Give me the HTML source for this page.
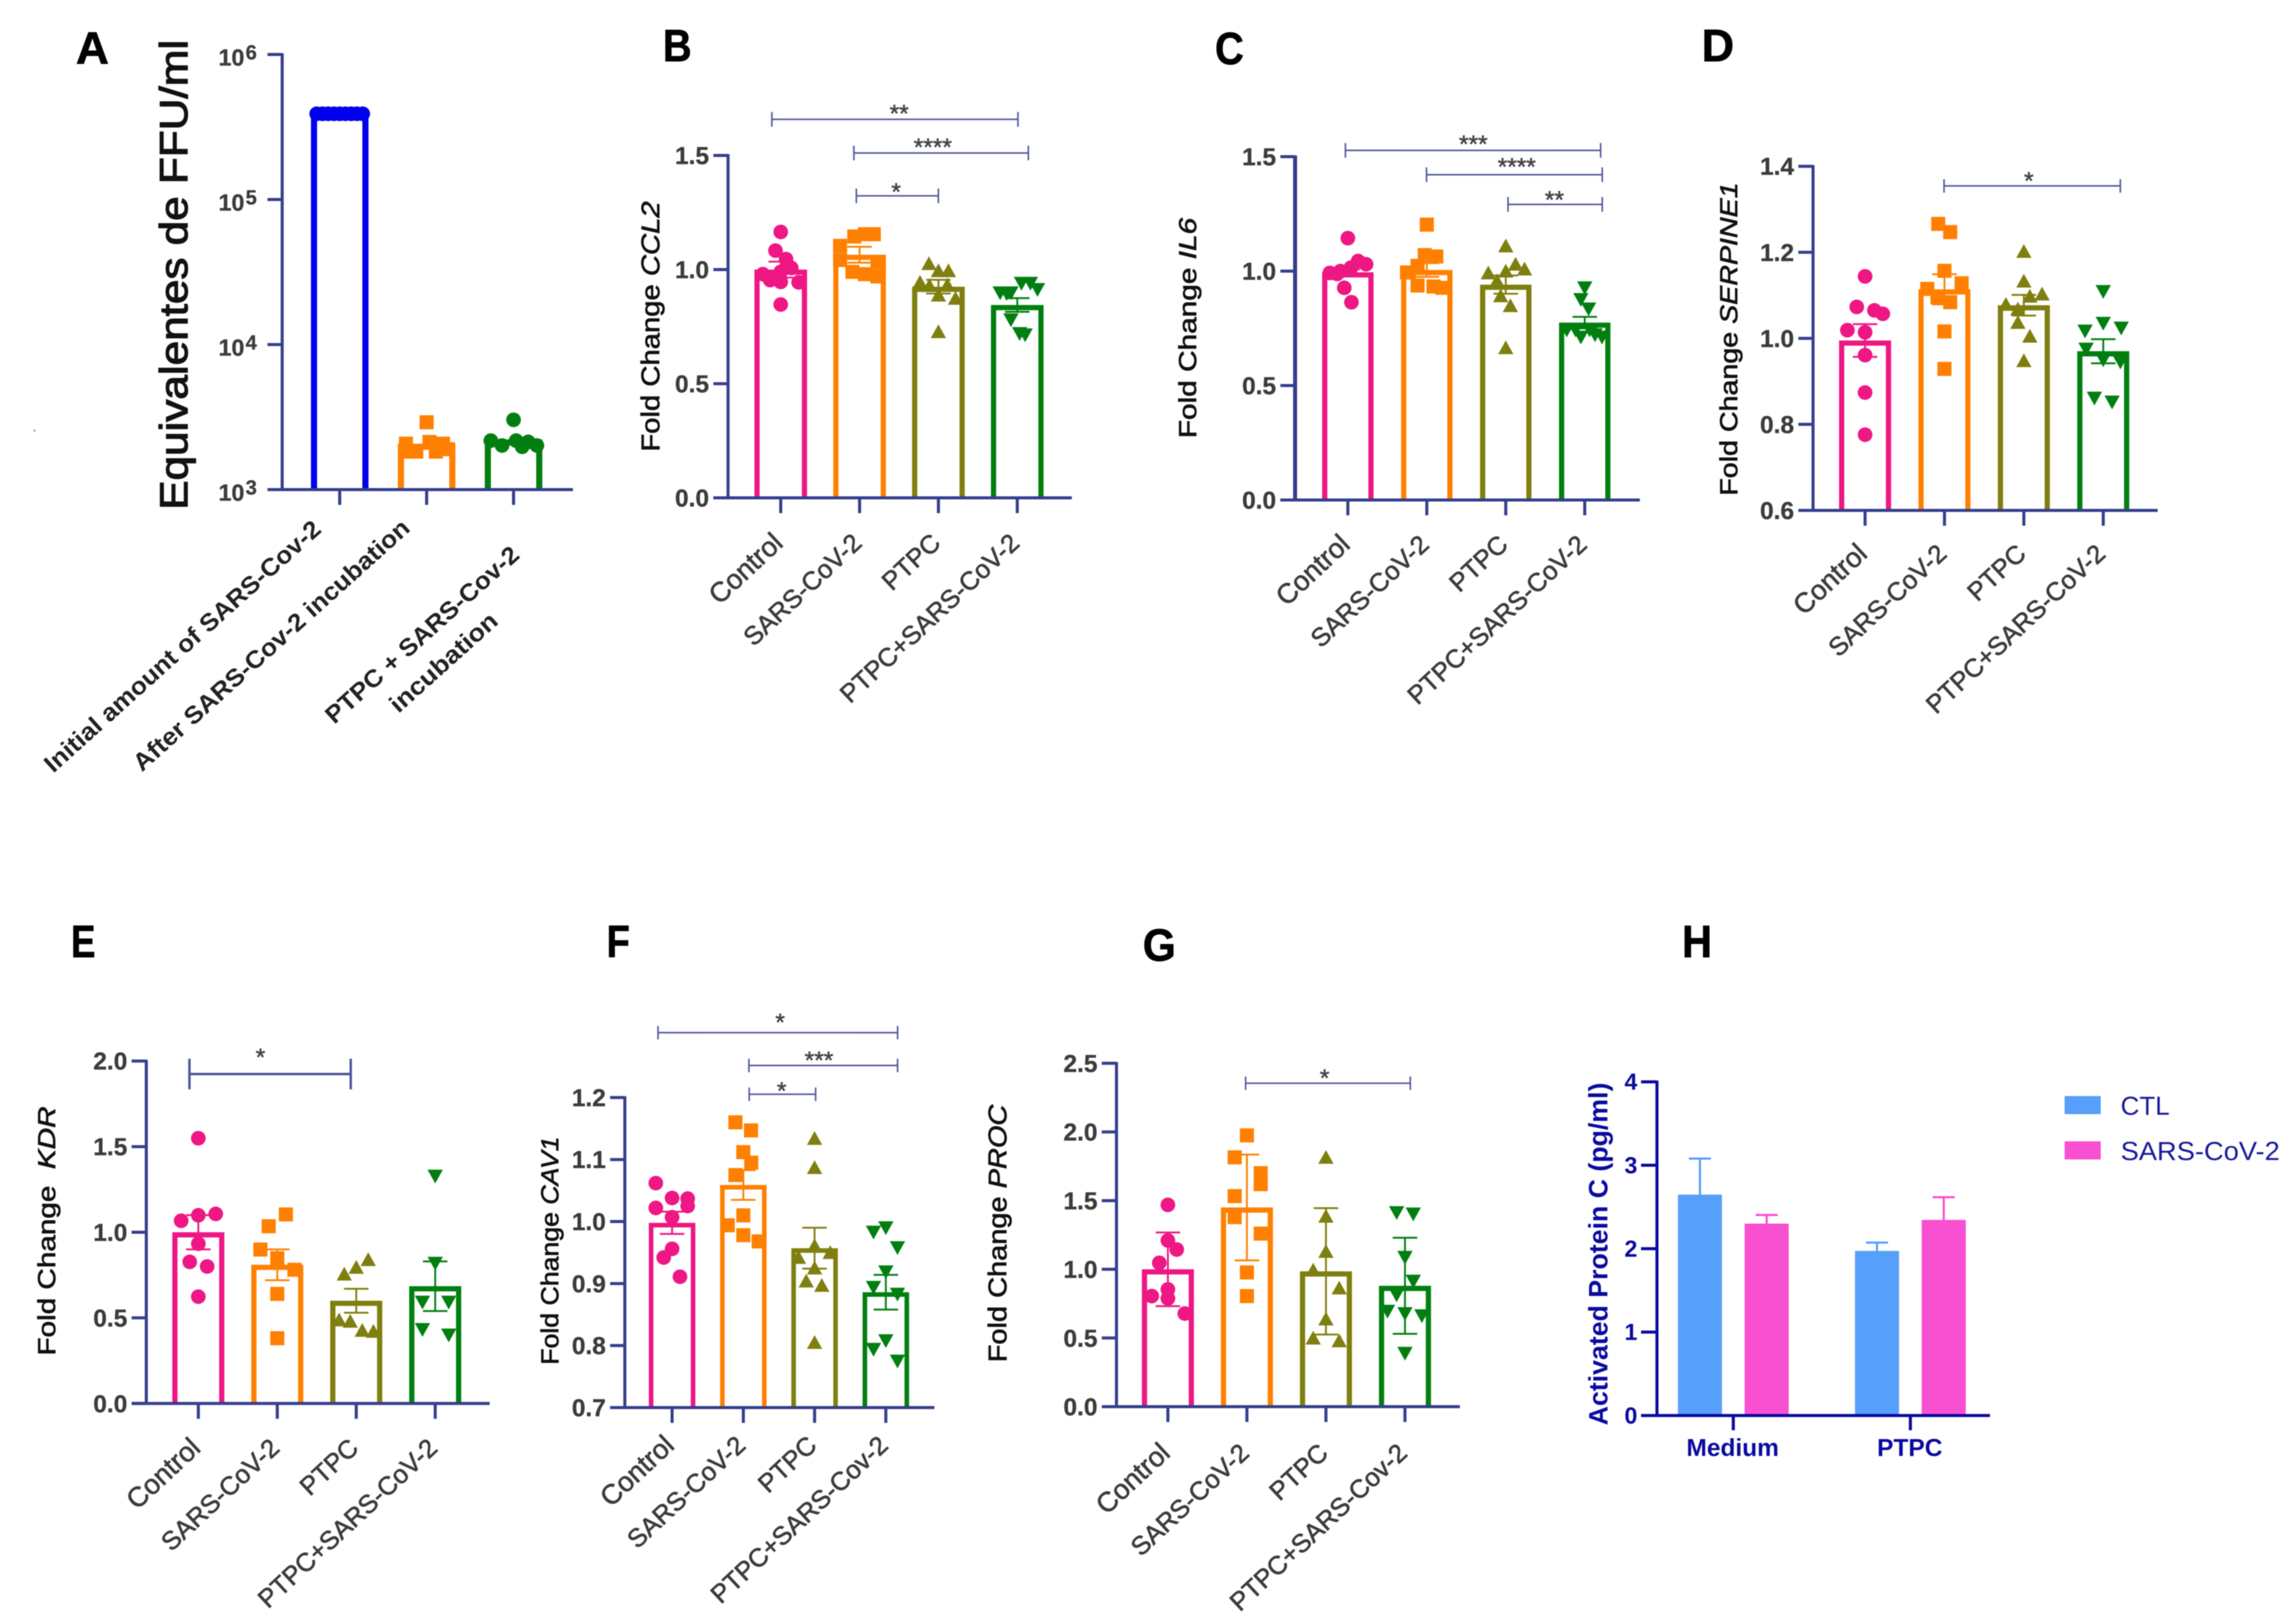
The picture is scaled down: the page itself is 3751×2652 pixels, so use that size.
<!DOCTYPE html>
<html lang="en">
<head>
<meta charset="utf-8">
<title>Panels A–H: SARS-CoV-2 titres and fold changes</title>
<style>
html,body{margin:0;padding:0;background:#fff;width:3751px;height:2652px;overflow:hidden}
svg{display:block;filter:blur(0.9px)}
text{font-family:"Liberation Sans",sans-serif}
</style>
</head>
<body>
<svg id="figure" xmlns="http://www.w3.org/2000/svg" width="3751" height="2652" viewBox="0 0 3751 2652">
<rect x="0" y="0" width="3751" height="2652" fill="#ffffff"/>
<rect x="55" y="702" width="3" height="3" fill="#8a8fa8"/>
</svg>
<script>
/* ---------- shared categories ---------- */
const groupLabels = ['Control', 'SARS-CoV-2', 'PTPC', 'PTPC+SARS-CoV-2'];
const groupLabelsCov = ['Control', 'SARS-CoV-2', 'PTPC', 'PTPC+SARS-Cov-2'];

/* ---------- panel A: FFU/ml (log scale) ---------- */
const ffuExponents = [3, 4, 5, 6];
const ffuLabels = ['Initial amount of SARS-Cov-2', 'After SARS-Cov-2 incubation', 'PTPC + SARS-Cov-2 incubation'];
const ffuMeans = [390000, 2072, 2218];
const ffuPoints = [
  [390000, 390000, 390000, 390000, 390000, 390000, 390000, 390000, 390000],
  [2911, 2072, 2130, 2072, 1827, 1827, 1827, 1900],
  [3027, 2176, 2014, 2176, 1974, 2133, 2014]
];
const ffuSlots = [
  [-0.8, -0.6, -0.4, -0.2, 0, 0.2, 0.4, 0.6, 0.8],
  [0, -0.72, 0.1, 0.57, -0.62, -0.36, 0.32, 0.74],
  [0, -0.79, -0.4, 0.09, 0.3, 0.51, 0.81]
];

/* ---------- panel B: CCL2 ---------- */
const ccl2Ticks = [0, 0.5, 1, 1.5];
const ccl2TickLabels = ['0.0', '0.5', '1.0', '1.5'];
const ccl2Means = [1.0, 1.065, 0.925, 0.845];
const ccl2Errors = [0.035, 0.035, 0.03, 0.03];
const ccl2Points = [
  [1.165, 1.083, 1.046, 1.007, 0.98, 0.99, 0.954, 0.946, 0.944, 0.847],
  [1.155, 1.145, 1.104, 1.042, 1.032, 0.99, 0.98, 0.97, 1.155],
  [1.026, 0.995, 0.995, 0.944, 0.93, 0.933, 0.888, 0.874, 0.728],
  [0.898, 0.898, 0.94, 0.94, 0.913, 0.78, 0.72, 0.714, 0.895]
];
const ccl2Slots = [
  [0, -0.2, 0.2, 0.4, -0.68, 0, -0.4, 0, 0.68, 0],
  [0.54, -0.2, -0.74, -0.74, 0.68, -0.27, 0.2, 0.68, 0.2],
  [-0.36, 0, 0.38, -0.7, -0.34, 0.34, 0, 0.65, 0],
  [-0.65, -0.24, 0.16, 0.5, 0.77, -0.24, 0.09, 0.3, -0.4]
];

/* ---------- panel C: IL6 ---------- */
const il6Ticks = [0, 0.5, 1, 1.5];
const il6TickLabels = ['0.0', '0.5', '1.0', '1.5'];
const il6Means = [0.995, 1.005, 0.941, 0.775];
const il6Errors = [0.012, 0.03, 0.04, 0.025];
const il6Points = [
  [1.144, 1.044, 1.03, 1.015, 1, 0.992, 0.988, 0.927, 0.864],
  [1.203, 1.07, 1.064, 1.023, 0.994, 0.937, 0.927, 0.933, 0.994],
  [1.11, 1.03, 1.009, 0.992, 1, 0.958, 0.892, 0.849, 0.665],
  [0.927, 0.876, 0.835, 0.743, 0.743, 0.712, 0.743, 0.712, 0.722]
];
const il6Slots = [
  [0, 0.4, 0.71, 0.12, -0.29, -0.7, -0.42, -0.14, 0.14],
  [0, -0.08, 0.37, -0.36, -0.77, -0.36, 0.6, 0.26, -0.7],
  [0, 0.38, 0.73, -0.68, 0, -0.34, -0.2, 0.18, 0],
  [0, -0.15, 0.15, -0.7, -0.36, -0.15, 0.19, 0.67, 0.4]
];

/* ---------- panel D: SERPINE1 ---------- */
const serpineTicks = [0.6, 0.8, 1.0, 1.2, 1.4];
const serpineTickLabels = ['0.6', '0.8', '1.0', '1.2', '1.4'];
const serpineMeans = [0.995, 1.114, 1.077, 0.97];
const serpineErrors = [0.038, 0.035, 0.024, 0.028];
const serpinePoints = [
  [1.144, 1.073, 1.065, 1.057, 1.019, 1.014, 0.961, 0.874, 0.776],
  [1.266, 1.247, 1.157, 1.115, 1.128, 1.095, 1.084, 1.016, 0.929],
  [1.202, 1.133, 1.098, 1.103, 1.079, 1.068, 1.037, 1.005, 0.948],
  [1.109, 1.017, 1.035, 1.024, 0.975, 0.95, 0.945, 0.861, 0.852]
];
const serpineSlots = [
  [0, -0.32, 0.36, 0.68, -0.68, 0, 0, 0, 0],
  [-0.24, 0.22, 0, -0.66, 0.66, -0.27, 0.22, 0, 0],
  [0, 0, 0.23, 0.7, -0.69, -0.23, -0.23, 0.23, 0],
  [0, -0.7, 0, 0.69, -0.66, 0, 0.66, -0.34, 0.34]
];

/* ---------- panel E: KDR ---------- */
const kdrTicks = [0, 0.5, 1, 1.5, 2];
const kdrTickLabels = ['0.0', '0.5', '1.0', '1.5', '2.0'];
const kdrMeans = [1.0, 0.81, 0.6, 0.685];
const kdrErrors = [0.1, 0.09, 0.07, 0.145];
const kdrPoints = [
  [1.549, 1.067, 1.099, 1.107, 0.933, 0.827, 0.8, 0.624],
  [1.104, 1.035, 0.899, 0.848, 0.781, 0.64, 0.381],
  [0.84, 0.795, 0.755, 0.488, 0.48, 0.427, 0.421],
  [1.328, 0.819, 0.592, 0.592, 0.432, 0.4]
];
const kdrSlots = [
  [0, -0.66, 0, 0.67, 0, -0.33, 0.34, 0],
  [0.33, -0.33, -0.65, 0, 0.66, 0, 0],
  [0.46, 0, -0.46, -0.66, -0.23, 0.23, 0.66],
  [0, 0, -0.49, 0.52, -0.49, 0.52]
];

/* ---------- panel F: CAV1 ---------- */
const cav1Ticks = [0.7, 0.8, 0.9, 1.0, 1.1, 1.2];
const cav1TickLabels = ['0.7', '0.8', '0.9', '1.0', '1.1', '1.2'];
const cav1Means = [0.998, 1.059, 0.957, 0.886];
const cav1Errors = [0.018, 0.024, 0.033, 0.028];
const cav1Points = [
  [1.062, 1.038, 1.037, 1.022, 1.025, 1.007, 0.956, 0.942, 0.911],
  [1.16, 1.147, 1.112, 1.095, 1.075, 1.01, 0.994, 0.978, 0.968],
  [1.134, 1.087, 0.942, 0.961, 0.95, 0.925, 0.904, 0.897, 0.805],
  [0.99, 0.983, 0.958, 0.919, 0.894, 0.883, 0.808, 0.794, 0.775]
];
const cav1Slots = [
  [-0.7, 0, 0.67, -0.7, 0.67, 0, 0, -0.36, 0.34],
  [-0.34, 0.33, 0, 0.34, -0.34, 0, -0.67, 0, 0.66],
  [0, 0, -0.69, 0, 0.67, 0, -0.36, 0.31, 0],
  [0, -0.53, 0.5, 0, -0.53, 0.5, 0, -0.53, 0.5]
];

/* ---------- panel G: PROC ---------- */
const procTicks = [0, 0.5, 1, 1.5, 2, 2.5];
const procTickLabels = ['0.0', '0.5', '1.0', '1.5', '2.0', '2.5'];
const procMeans = [1.0, 1.45, 0.985, 0.88];
const procErrors = [0.268, 0.385, 0.46, 0.35];
const procPoints = [
  [1.469, 1.21, 1.144, 1.047, 0.854, 0.805, 0.788, 0.678],
  [1.975, 1.815, 1.7, 1.62, 1.533, 1.38, 1.26, 0.977, 0.805],
  [1.815, 1.386, 1.13, 0.994, 0.864, 0.638, 0.499, 0.479],
  [1.413, 1.403, 1.087, 0.914, 0.814, 0.695, 0.678, 0.662, 0.389]
];
const procSlots = [
  [0, 0, 0.34, -0.33, 0, -0.62, 0, 0.65],
  [0, -0.47, 0.53, 0.53, -0.47, -0.47, 0.53, 0, 0],
  [0, 0, 0, -0.49, 0.51, 0, -0.49, 0.51],
  [-0.32, 0.32, 0, 0.32, -0.32, -0.67, 0, 0.65, 0]
];

/* ---------- panel H: activated protein C ---------- */
const apcConditions = ['Medium', 'PTPC'];
const apcSeriesNames = ['CTL', 'SARS-CoV-2'];
const apcTicks = [0, 1, 2, 3, 4];
const apcCtl = [2.648, 1.973];
const apcCtlErrors = [0.432, 0.1];
const apcSars = [2.3, 2.345];
const apcSarsErrors = [0.104, 0.272];

/* ---------- styling and helpers ---------- */
const NS = 'http://www.w3.org/2000/svg';
const figure = document.getElementById('figure');
const AXIS = '#353f8c';
const INK = '#3c3c3c';
const PINK = '#ee1784', ORANGE = '#ff8000', OLIVE = '#7f7f10', GREEN = '#007f10', BLUE = '#0000ee';
const APC_BLUE = '#569ffb', APC_PINK = '#f94fd1', APC_AXIS = '#0a0aa0';

function make(tag, attrs, parent, content) {
  const node = document.createElementNS(NS, tag);
  for (const key in attrs) node.setAttribute(key, attrs[key]);
  if (content !== undefined) node.textContent = content;
  parent.appendChild(node);
  return node;
}
function slug(s) {
  return s.toLowerCase().replace(/[^a-z0-9]+/g, '-').replace(/^-|-$/g, '');
}
function marker(shape, cx, cy, color, parent) {
  if (shape === 'circle') return make('circle', {cx: cx, cy: cy, r: 12, fill: color}, parent);
  if (shape === 'square') return make('rect', {x: cx - 11.5, y: cy - 11.5, width: 23, height: 23, fill: color}, parent);
  const p = shape === 'up'
    ? [cx - 12.5, cy + 10.5, cx + 12.5, cy + 10.5, cx, cy - 12]
    : [cx - 12.5, cy - 10.5, cx + 12.5, cy - 10.5, cx, cy + 12];
  return make('polygon', {points: p.join(' '), fill: color}, parent);
}
function panelLetter(letter, x, y, len) {
  const t = make('text', {x: x, y: y, 'font-size': 74, 'font-weight': 700, fill: '#000', stroke: '#000', 'stroke-width': 1, textLength: len, lengthAdjust: 'spacingAndGlyphs'}, figure, letter);
  
  
}
function yTitle(panel, plain, italic, baseX, bottomY, len, size, weight) {
  const t = make('text', {transform: 'translate(' + baseX + ' ' + bottomY + ') rotate(-90)', 'font-size': size, fill: '#111', stroke: '#111', 'stroke-width': weight, textLength: len, lengthAdjust: 'spacingAndGlyphs'}, panel, plain);
  
  
  if (italic) make('tspan', {'font-style': 'italic'}, t, italic);
}
function bracket(panel, x1, x2, y, stars, starX, starY, half, width) {
  const g = make('g', {stroke: AXIS, 'stroke-width': width, fill: 'none', opacity: 0.88}, panel);
  
  
  make('line', {x1: x1, x2: x2, y1: y, y2: y}, g);
  make('line', {x1: x1, x2: x1, y1: y - half, y2: y + half}, g);
  make('line', {x1: x2, x2: x2, y1: y - half, y2: y + half}, g);
  const t = make('text', {x: starX, y: starY + 23, 'text-anchor': 'middle', 'font-size': 40, fill: '#444', stroke: '#444', 'stroke-width': 0.8}, panel, stars);
  
  
}

/* Draws one bar + scatter panel through its axis functions */
function drawPanel(cfg) {
  const panel = make('g', {}, figure);
  
  
  const yScale = cfg.yScale;
  const xScale = function (i) { return cfg.firstX + i * cfg.stepX; };
  const colors = cfg.colors;
  const shapes = cfg.shapes;
  const strokeW = cfg.barStroke || 8.5;
  const baseY = cfg.baseY;

  cfg.means.forEach(function (mean, i) {
    const c = xScale(i), hw = cfg.halfWidth - strokeW / 2, top = yScale(mean) + strokeW / 2;
    const bar = make('path', {d: 'M' + (c - hw) + ' ' + baseY + 'V' + top + 'H' + (c + hw) + 'V' + baseY, fill: 'none', stroke: colors[i], 'stroke-width': strokeW, 'stroke-linejoin': 'miter'}, panel);
    
    
  });

  if (cfg.errors) cfg.errors.forEach(function (err, i) {
    const c = xScale(i), hi = yScale(cfg.means[i] + err), lo = yScale(cfg.means[i] - err);
    const g = make('g', {stroke: colors[i], 'stroke-width': 3, fill: 'none'}, panel);
    
    
    make('line', {x1: c, x2: c, y1: hi, y2: lo}, g);
    make('line', {x1: c - 20, x2: c + 20, y1: hi, y2: hi}, g);
    make('line', {x1: c - 20, x2: c + 20, y1: lo, y2: lo}, g);
  });

  cfg.points.forEach(function (series, i) {
    series.forEach(function (value, j) {
      const cx = xScale(i) + cfg.slots[i][j] * cfg.halfWidth;
      const pt = marker(shapes[i], cx, yScale(value), colors[i], panel);
      
      
    });
  });

  const yAxis = make('line', {x1: cfg.axisX, x2: cfg.axisX, y1: yScale(cfg.ticks[cfg.ticks.length - 1]) - 2, y2: baseY + 2, stroke: AXIS, 'stroke-width': cfg.yAxisW || 5}, panel);
  
  
  const xAxis = make('line', {x1: cfg.axisX - 24, x2: cfg.axisEnd, y1: baseY, y2: baseY, stroke: AXIS, 'stroke-width': 5}, panel);
  
  

  cfg.ticks.forEach(function (tick, i) {
    const y = yScale(tick);
    const mark = make('line', {x1: cfg.axisX - 24, x2: cfg.axisX, y1: y, y2: y, stroke: AXIS, 'stroke-width': 5}, panel);
    
    
    if (cfg.tickLabels) {
      const label = make('text', {x: cfg.axisX - 31, y: y + 14, 'text-anchor': 'end', 'font-size': 40, 'font-weight': 700, fill: INK, stroke: INK, 'stroke-width': 0.5}, panel, cfg.tickLabels[i]);
      
      
    } else {
      const label = make('text', {x: cfg.axisX - 104, y: y + 18, 'font-size': 38, 'font-weight': 700, fill: INK, stroke: INK, 'stroke-width': 0.5}, panel, '10');
      
      
      make('tspan', {dy: -10, dx: 2, 'font-size': 33}, label, String(tick));
    }
  });

  cfg.categories.forEach(function (name, i) {
    const x = xScale(i);
    const mark = make('line', {x1: x, x2: x, y1: baseY, y2: baseY + 25, stroke: AXIS, 'stroke-width': 5}, panel);
    
    
    if (cfg.labelDy !== undefined) {
      const ex = x + 6, ey = baseY + cfg.labelDy;
      const size = name === 'Control' ? 45 : 42;
      const label = make('text', {transform: 'translate(' + ex + ' ' + ey + ') rotate(-43)', 'text-anchor': 'end', 'font-size': size, fill: INK, stroke: INK, 'stroke-width': 1}, panel, name);
      
      
    }
  });
  return panel;
}

const COLORS4 = [PINK, ORANGE, OLIVE, GREEN];
const SHAPES4 = ['circle', 'square', 'up', 'down'];
function linear(v0, p0, v1, p1) {
  return function (v) { return p0 + (v - v0) * (p1 - p0) / (v1 - v0); };
}

/* ---------- Panel A ---------- */
panelLetter('A', 124, 104, 54);
const panelA = drawPanel({
  id: 'a', categories: ffuLabels, means: ffuMeans, points: ffuPoints, slots: ffuSlots,
  colors: [BLUE, ORANGE, GREEN], shapes: ['circle', 'square', 'circle'],
  ticks: ffuExponents, tickLabels: null,
  yScale: function (v) { const e = v > 100 ? Math.log10(v) : v; return 800 - (e - 3) * 237; },
  axisX: 461, axisEnd: 936, baseY: 800, firstX: 555, stepX: 142, halfWidth: 47, barStroke: 10
});
yTitle(panelA, 'Equivalentes de FFU/ml', '', 306, 833, 768, 64, 1.8);
function aLabel(text, x, y, len) {
  const t = make('text', {transform: 'translate(' + x + ' ' + y + ') rotate(-42)', 'text-anchor': 'end', 'font-size': 40, 'font-weight': 700, fill: '#222', textLength: len, lengthAdjust: 'spacingAndGlyphs'}, panelA, text);
  
  
}
aLabel('Initial amount of SARS-Cov-2', 527, 868, 592);
aLabel('After SARS-Cov-2 incubation', 672, 866, 592);
aLabel('PTPC + SARS-Cov-2', 851, 910, 410);
aLabel('incubation', 816, 1018, 222);

/* ---------- Panel B ---------- */
panelLetter('B', 1083, 100, 47);
const panelB = drawPanel({
  id: 'b', categories: groupLabels, means: ccl2Means, errors: ccl2Errors, points: ccl2Points, slots: ccl2Slots,
  colors: COLORS4, shapes: SHAPES4, ticks: ccl2Ticks, tickLabels: ccl2TickLabels,
  yScale: linear(0, 813.5, 1.5, 254), axisX: 1189.4, axisEnd: 1751, baseY: 813.5,
  firstX: 1275.5, stepX: 128.8, halfWidth: 43, labelDy: 77
});
yTitle(panelB, 'Fold Change ', 'CCL2', 1077, 738, 409, 42, 1);
bracket(panelB, 1261, 1663, 195, '**', 1469, 176, 12, 2.5);
bracket(panelB, 1395, 1680, 250, '****', 1524, 231, 12, 2.5);
bracket(panelB, 1399, 1533, 320, '*', 1464, 304, 12, 2.5);

/* ---------- Panel C ---------- */
panelLetter('C', 1985, 105, 47);
const panelC = drawPanel({
  id: 'c', categories: groupLabels, means: il6Means, errors: il6Errors, points: il6Points, slots: il6Slots,
  colors: COLORS4, shapes: SHAPES4, ticks: il6Ticks, tickLabels: il6TickLabels,
  yScale: linear(0, 817, 1.5, 256), axisX: 2115.8, axisEnd: 2679, baseY: 817,
  firstX: 2202, stepX: 129, halfWidth: 42, yAxisW: 6.5, labelDy: 76
});
yTitle(panelC, 'Fold Change ', 'IL6', 1954, 716, 360, 40, 1);
bracket(panelC, 2198, 2615, 245.7, '***', 2407, 226, 12, 2.5);
bracket(panelC, 2330.5, 2617.6, 285.5, '****', 2478, 263, 12, 2.5);
bracket(panelC, 2463.7, 2617.6, 334, '**', 2539.5, 317, 12, 2.5);

/* ---------- Panel D ---------- */
panelLetter('D', 2780, 100, 53);
const panelD = drawPanel({
  id: 'd', categories: groupLabels, means: serpineMeans, errors: serpineErrors, points: serpinePoints, slots: serpineSlots,
  colors: COLORS4, shapes: SHAPES4, ticks: serpineTicks, tickLabels: serpineTickLabels,
  yScale: linear(0.6, 834, 1.4, 271.7), axisX: 2962, axisEnd: 3525, baseY: 834,
  firstX: 3047, stepX: 129.7, halfWidth: 42.5, labelDy: 74
});
yTitle(panelD, 'Fold Change ', 'SERPINE1', 2838, 810, 512, 40, 1);
bracket(panelD, 3176, 3464, 303.8, '*', 3314.5, 286, 11, 2.5);

/* ---------- Panel E ---------- */
panelLetter('E', 116, 1564, 40);
const panelE = drawPanel({
  id: 'e', categories: groupLabels, means: kdrMeans, errors: kdrErrors, points: kdrPoints, slots: kdrSlots,
  colors: COLORS4, shapes: SHAPES4, ticks: kdrTicks, tickLabels: kdrTickLabels,
  yScale: linear(0, 2293.3, 2, 1733.7), axisX: 239, axisEnd: 800, baseY: 2293.3,
  firstX: 324, stepX: 129, halfWidth: 42.5, labelDy: 76
});
yTitle(panelE, 'Fold Change \u00A0', 'KDR', 90, 2215, 407, 40, 1);
bracket(panelE, 309.5, 573, 1755, '*', 425.5, 1718, 25, 4);

/* ---------- Panel F ---------- */
panelLetter('F', 991, 1564, 38);
const panelF = drawPanel({
  id: 'f', categories: groupLabelsCov, means: cav1Means, errors: cav1Errors, points: cav1Points, slots: cav1Slots,
  colors: COLORS4, shapes: SHAPES4, ticks: cav1Ticks, tickLabels: cav1TickLabels,
  yScale: linear(0.7, 2300, 1.2, 1793.4), axisX: 1020.8, axisEnd: 1526.5, baseY: 2300,
  firstX: 1098, stepX: 116.4, halfWidth: 38, barStroke: 7.5, labelDy: 65
});
yTitle(panelF, 'Fold Change ', 'CAV1', 912, 2230, 373, 40, 1);
bracket(panelF, 1075, 1466.4, 1687.4, '*', 1274.5, 1661, 11, 2.5);
bracket(panelF, 1223.5, 1466.4, 1741, '***', 1338, 1723, 11, 2.5);
bracket(panelF, 1224, 1332.5, 1788, '*', 1277, 1773, 11, 2.5);

/* ---------- Panel G ---------- */
panelLetter('G', 1867, 1570, 54);
const panelG = drawPanel({
  id: 'g', categories: groupLabelsCov, means: procMeans, errors: procErrors, points: procPoints, slots: procSlots,
  colors: COLORS4, shapes: SHAPES4, ticks: procTicks, tickLabels: procTickLabels,
  yScale: linear(0, 2298.5, 2.5, 1737.4), axisX: 1824, axisEnd: 2385, baseY: 2298.5,
  firstX: 1908, stepX: 129.1, halfWidth: 42.5, labelDy: 79
});
yTitle(panelG, 'Fold Change ', 'PROC', 1644, 2226, 421, 42, 1);
bracket(panelG, 2035, 2304, 1770, '*', 2164, 1752, 11, 2.5);

/* ---------- Panel H ---------- */
panelLetter('H', 2748, 1564, 49);
(function () {
  const panel = make('g', {}, figure);
  
  
  const baseY = 2313;
  const y = linear(0, 2313, 4, 1767.7);
  const x = function (i) { return 2831.7 + i * 289.3; };
  const series = [
    {values: apcCtl, errors: apcCtlErrors, color: APC_BLUE, off: -54.5},
    {values: apcSars, errors: apcSarsErrors, color: APC_PINK, off: 54.5}
  ];
  series.forEach(function (s, k) {
    s.values.forEach(function (v, i) {
      const c = x(i) + s.off;
      const hi = y(v + s.errors[i]);
      const err = make('g', {stroke: s.color, 'stroke-width': 3.5, fill: 'none'}, panel);
      
      
      make('line', {x1: c, x2: c, y1: hi, y2: y(v)}, err);
      make('line', {x1: c - 18, x2: c + 18, y1: hi, y2: hi}, err);
      const bar = make('rect', {x: c - 36, y: y(v), width: 72, height: baseY - y(v), fill: s.color}, panel);
      
      
    });
  });
  const yAxis = make('line', {x1: 2707, x2: 2707, y1: y(4) - 2, y2: baseY + 2, stroke: APC_AXIS, 'stroke-width': 5}, panel);
  
  
  const xAxis = make('line', {x1: 2681, x2: 3251, y1: baseY, y2: baseY, stroke: APC_AXIS, 'stroke-width': 5}, panel);
  
  
  apcTicks.forEach(function (tick) {
    const mark = make('line', {x1: 2681, x2: 2707, y1: y(tick), y2: y(tick), stroke: APC_AXIS, 'stroke-width': 5}, panel);
    
    
    const label = make('text', {x: 2675, y: y(tick) + 13, 'text-anchor': 'end', 'font-size': 38, 'font-weight': 700, fill: APC_AXIS}, panel, String(tick));
    
    
  });
  apcConditions.forEach(function (name, i) {
    const mark = make('line', {x1: x(i), x2: x(i), y1: baseY, y2: baseY + 24, stroke: APC_AXIS, 'stroke-width': 5}, panel);
    
    
    const label = make('text', {x: x(i) - 1, y: 2379, 'text-anchor': 'middle', 'font-size': 40, 'font-weight': 700, fill: APC_AXIS}, panel, name);
    
    
  });
  const title = make('text', {transform: 'translate(2626 2329) rotate(-90)', 'font-size': 44, 'font-weight': 700, fill: APC_AXIS, textLength: 560, lengthAdjust: 'spacingAndGlyphs'}, panel, 'Activated Protein C (pg/ml)');
  
  

  [APC_BLUE, APC_PINK].forEach(function (color, i) {
    const swatchY = i === 0 ? 1791 : 1865;
    const swatch = make('rect', {x: 3373, y: swatchY, width: 59, height: 29.5, fill: color}, panel);
    
    
    const label = make('text', {x: 3464.5, y: swatchY + 30.5, 'font-size': 43, fill: '#1a1a9a', textLength: i === 0 ? 80 : 260, lengthAdjust: 'spacingAndGlyphs'}, panel, apcSeriesNames[i]);
    
    
  });
})();
</script>
</body>
</html>
